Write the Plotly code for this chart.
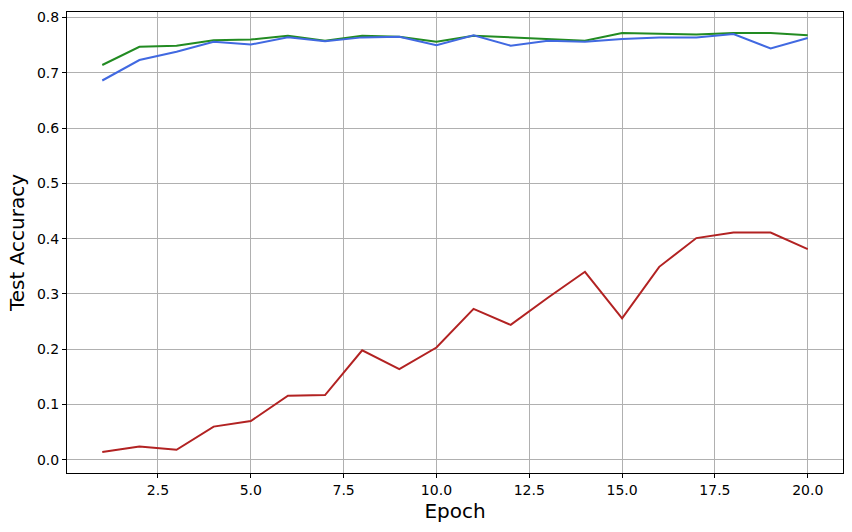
import plotly.graph_objects as go

epochs = list(range(1, 21))
green_acc = [0.714, 0.747, 0.749, 0.759, 0.760, 0.767, 0.758, 0.767, 0.765, 0.756,
             0.767, 0.764, 0.762, 0.758, 0.772, 0.770, 0.769, 0.772, 0.772, 0.768]
blue_acc = [0.686, 0.723, 0.738, 0.756, 0.751, 0.764, 0.757, 0.764, 0.765, 0.750,
            0.768, 0.749, 0.758, 0.756, 0.761, 0.764, 0.764, 0.770, 0.744, 0.763]
red_acc = [0.014, 0.024, 0.018, 0.060, 0.070, 0.116, 0.117, 0.198, 0.164, 0.203,
           0.273, 0.244, 0.293, 0.340, 0.256, 0.349, 0.401, 0.411, 0.411, 0.381]
x_ticks = [2.5, 5.0, 7.5, 10.0, 12.5, 15.0, 17.5, 20.0]
y_ticks = [0.0, 0.1, 0.2, 0.3, 0.4, 0.5, 0.6, 0.7, 0.8]

series = [(green_acc, "#228B22"), (blue_acc, "#4169E1"), (red_acc, "#B22222")]

fig = go.Figure()
for vals, color in series:
    fig.add_trace(go.Scatter(x=epochs, y=vals, mode="lines",
                             line=dict(color=color, width=2), showlegend=False))

allv = green_acc + blue_acc + red_acc
ymin, ymax = min(allv), max(allv)
ypad = 0.05 * (ymax - ymin)
xpad = 0.05 * (max(epochs) - min(epochs))

axis_common = dict(showline=True, linecolor="black", linewidth=1, mirror=True,
                   ticks="outside", ticklen=4, tickcolor="black", tickwidth=1,
                   showgrid=True, gridcolor="#b0b0b0", gridwidth=1, zeroline=False,
                   automargin=False,
                   tickfont=dict(family="DejaVu Sans", size=14, color="black"))

fig.update_layout(
    width=852, height=532,
    margin=dict(l=67, r=9, t=12, b=59),
    paper_bgcolor="white", plot_bgcolor="white",
    font=dict(family="DejaVu Sans", color="black"),
    xaxis=dict(range=[min(epochs) - xpad, max(epochs) + xpad], tickvals=x_ticks,
               ticktext=[f"{v:.1f}" for v in x_ticks],
               title=dict(text="Epoch", font=dict(size=20), standoff=7), **axis_common),
    yaxis=dict(range=[ymin - ypad, ymax + ypad], tickvals=y_ticks,
               ticktext=[f"{v:.1f}" for v in y_ticks],
               title=dict(text="Test Accuracy", font=dict(size=20), standoff=6), **axis_common),
)

fig.write_html("out.html", config={"displayModeBar": False},
               post_script="document.body.style.margin='0';")
